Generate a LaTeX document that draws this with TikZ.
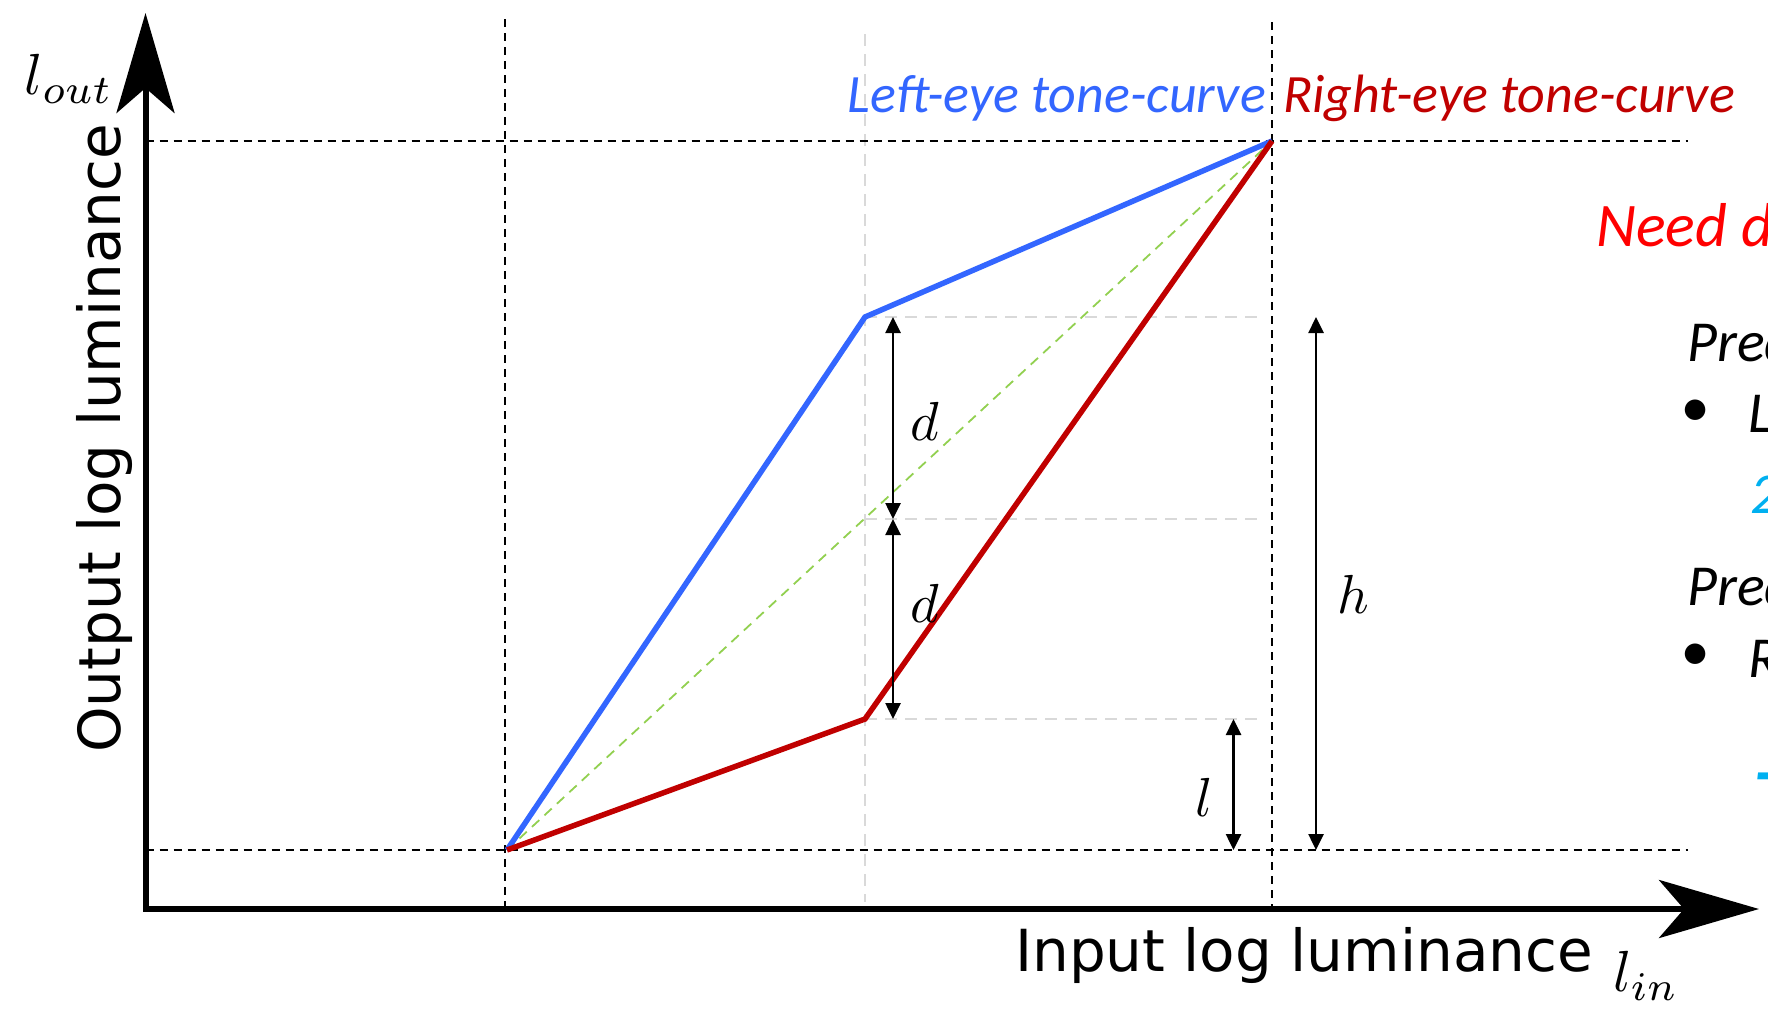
\documentclass[tikz,border=0pt]{standalone}
\usepackage{fontspec}
\newfontfamily\axisfont{DejaVu Sans}
\newfontfamily\calfont{Carlito}
\usetikzlibrary{arrows.meta}
\definecolor{lblue}{RGB}{51,102,255}
\definecolor{dred}{RGB}{192,0,0}
\definecolor{lgreen}{RGB}{146,208,80}
\definecolor{lgray}{RGB}{217,217,217}
\definecolor{cyanb}{RGB}{0,176,240}
\begin{document}
\begin{tikzpicture}[x=1pt,y=-1pt,
  axisline/.style={line width=6pt,line join=miter,
    {Stealth[length=100pt,width=58pt,inset=25pt]}-{Stealth[length=100pt,width=58pt,inset=25pt]}},
  guide/.style={line width=2.8pt,dash pattern=on 8pt off 6pt},
  faint/.style={line width=1.6pt,lgray,dash pattern=on 12pt off 8pt},
  diag/.style={line width=1.8pt,lgreen,dash pattern=on 10pt off 7pt},
  curve/.style={line width=5.5pt,line join=miter},
  dim/.style={line width=2.6pt,{Triangle[width=15pt,length=16pt]}-{Triangle[width=15pt,length=16pt]}},
  mathlbl/.style={inner sep=0pt,scale=5.5},
  axmath/.style={inner sep=0pt,scale=5.8},
  axlbl/.style={inner sep=0pt,font=\axisfont\fontsize{58}{64}\selectfont},
  cal/.style={inner sep=0pt,font=\calfont\itshape\fontsize{54}{60}\selectfont},
  calbig/.style={inner sep=0pt,font=\calfont\itshape\fontsize{62}{70}\selectfont},
  calmid/.style={inner sep=0pt,font=\calfont\itshape\fontsize{58}{64}\selectfont}]
\useasboundingbox (0,0) rectangle (1768,1009);
% key points
\coordinate (O) at (145.5,909);
\coordinate (ytip) at (145.5,13);
\coordinate (xtip) at (1759,909);
\coordinate (P0) at (507,850);
\coordinate (B1) at (865,317);
\coordinate (R1) at (865,719);
\coordinate (M) at (865,519);
\coordinate (P2) at (1272,141);
% guide coordinates
\coordinate (gt0) at (145.5,141); \coordinate (gt1) at (1688,141);
\coordinate (gb0) at (145.5,850); \coordinate (gb1) at (1688,850);
\coordinate (gl0) at (505,19);    \coordinate (gl1) at (505,909);
\coordinate (gr0) at (1272,22);   \coordinate (gr1) at (1272,909);
\coordinate (gm0) at (865,34);    \coordinate (gm1) at (865,902);
\coordinate (fh1) at (1263,317);
\coordinate (fh2) at (1263,519);
\coordinate (fh3) at (1263,719);
% faint grid
\draw[faint] (gm0) -- (gm1);
\draw[faint] (B1) -- (fh1);
\draw[faint] (M) -- (fh2);
\draw[faint] (R1) -- (fh3);
% black guides
\draw[guide] (gt0) -- (gt1);
\draw[guide] (gb0) -- (gb1);
\draw[guide] (gl0) -- (gl1);
\draw[guide] (gr0) -- (gr1);
% axes
\draw[axisline] (ytip) -- (O) -- (xtip);
% curves
\draw[diag] (P0) -- (P2);
\draw[curve,lblue] (P0) -- (B1) -- (P2);
\draw[curve,dred] (P0) -- (R1) -- (P2);
% dimension arrows
\coordinate (d1a) at (893,317); \coordinate (d1b) at (893,519);
\coordinate (d2b) at (893,719);
\coordinate (la) at (1233.5,719); \coordinate (lb) at (1233.5,850);
\coordinate (ha) at (1316,317); \coordinate (hb) at (1316,850);
\draw[dim] (d1a) -- (d1b);
\draw[dim] (d1b) -- (d2b);
\draw[dim] (la) -- (lb);
\draw[dim] (ha) -- (hb);
% math labels
\node[mathlbl] (dlab1) at (925,421) {$d$};
\node[mathlbl] (dlab2) at (925,603) {$d$};
\node[mathlbl] (hlab) at (1353,594) {$h$};
\node[mathlbl] (llab) at (1204,797) {$l$};
\node[axmath] (lout) at (69,79) {$l_{out}$};
\node[axmath] (lin) at (1646,976) {$l_{in}$};
% axis titles
\node[axlbl,rotate=90,anchor=base west] (ytitle) at (120.6,753) {Output log luminance};
\node[axlbl,anchor=base west] (xtitle) at (1015,971) {Input log luminance};
% curve titles
\node[cal,lblue,anchor=base east] (lefttitle) at (1266,112) {Left-eye tone-curve};
\node[cal,dred,anchor=base west] (righttitle) at (1283,112) {Right-eye tone-curve};
% right-hand text (cut by the page edge)
\node[calbig,red,anchor=base west] (need) at (1596,246) {Need d};
\node[calmid,anchor=base west] (pred1) at (1687,361) {Pred};
\node[calmid,anchor=center] (bul1) at (1695,413) {•};
\node[calmid,anchor=base west] (litemL) at (1748,432) {L};
\node[calmid,cyanb,anchor=base west] (two) at (1750,513) {2};
\node[calmid,anchor=base west] (pred2) at (1687,605) {Pred};
\node[calmid,anchor=center] (bul2) at (1695,657) {•};
\node[calmid,anchor=base west] (litemR) at (1748,677) {R};
\node[inner sep=0pt,font=\calfont\itshape\fontsize{96}{100}\selectfont,cyanb,anchor=base west] (tee) at (1752,834) {T};
\end{tikzpicture}
\end{document}
